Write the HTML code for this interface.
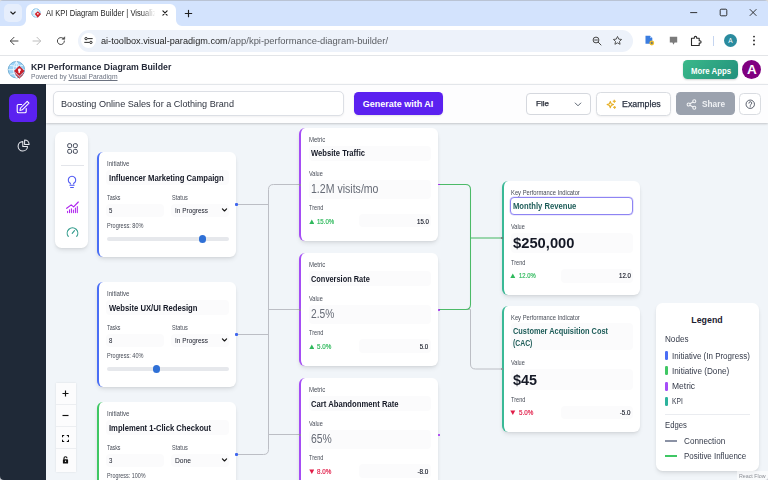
<!DOCTYPE html>
<html>
<head>
<meta charset="utf-8">
<title>AI KPI Diagram Builder</title>
<style>
html,body{margin:0;padding:0;}
body{width:768px;height:480px;overflow:hidden;position:relative;background:#fff;font-family:"Liberation Sans",sans-serif;}
body>div,body>svg,body>span{position:absolute;box-sizing:border-box;}
.t{position:absolute;white-space:nowrap;display:block;}
.card{background:#fff;border-radius:6px;box-shadow:0 3px 5px -1px rgba(0,0,0,.10),0 1.500px 3px -1.500px rgba(0,0,0,.10);}
.f{background:#fbfbfc;border-radius:4px;}
</style>
</head>
<body>
<div style="left:0px;top:0px;width:768px;height:26px;background:#d3e3fd;border-radius:0px;"></div>
<div style="left:0px;top:0px;width:768px;height:1px;background:#b9c3d4;border-radius:0px;"></div>
<div style="left:4px;top:4px;width:18px;height:17.5px;background:#e6eefc;border-radius:5px;"></div>
<svg style="left:9px;top:8.5px" width="8" height="8" viewBox="0 0 8 8"><path d="M1.8 3 L4 5.1 L6.2 3" fill="none" stroke="#1f1f1f" stroke-width="1.15" stroke-linecap="round" stroke-linejoin="round"/></svg>
<div style="left:26px;top:4px;width:149.5px;height:23px;background:#fff;border-radius:0px;border-radius:6px 6px 0 0;"></div>
<svg style="left:20px;top:20px" width="6" height="6" viewBox="0 0 6 6"><path d="M6 0 V6 H0 A6 6 0 0 0 6 0Z" fill="#fff"/></svg>
<svg style="left:175.5px;top:20px" width="6" height="6" viewBox="0 0 6 6"><path d="M0 0 V6 H6 A6 6 0 0 1 0 0Z" fill="#fff"/></svg>
<svg style="left:31px;top:8px" width="11" height="11" viewBox="0 0 22 22"><circle cx="10" cy="10" r="8.6" fill="#bfe3f7" stroke="#5aa7dd" stroke-width="1.2"/><path d="M10 1.5 V18.5 M1.5 10 H18.5 M3.5 5 Q10 8 16.500 5 M3.5 15 Q10 12 16.5 15 M10 1.5 Q3 10 10 18.5 M10 1.5 Q17 10 10 18.500" fill="none" stroke="#fff" stroke-width="1"/><path d="M13.5 6.5 L20 12 L13.5 19.500 L7.5 12 Z" fill="#d2232a"/><circle cx="13.7" cy="11.500" r="1.700" fill="#fff"/></svg>
<span id="t0" class="t" style="top:8.97px;font-size:8.2px;line-height:10.66px;font-weight:400;color:#1f1f1f;left:46.2px;transform-origin:0 50%;transform:scaleX(0.9291);-webkit-mask-image:linear-gradient(90deg,#000 86%,transparent 99%);mask-image:linear-gradient(90deg,#000 86%,transparent 99%);">AI KPI Diagram Builder | Visualiz</span>
<svg style="left:161px;top:9.200px" width="8" height="8" viewBox="0 0 8 8"><path d="M1.900 1.900 L6.100 6.100 M6.100 1.900 L1.900 6.100" stroke="#1f1f1f" stroke-width="1.150" stroke-linecap="round"/></svg>
<svg style="left:183.500px;top:8.5px" width="9" height="9" viewBox="0 0 9 9"><path d="M4.500 1.300 V7.700 M1.300 4.500 H7.700" stroke="#1f1f1f" stroke-width="1.150" stroke-linecap="round"/></svg>
<svg style="left:689px;top:8px" width="70" height="10" viewBox="0 0 70 10"><path d="M1.200 4.600 H8.200" stroke="#1f1f1f" stroke-width="0.9"/><rect x="31.200" y="1.200" width="6.600" height="6.600" rx="1" fill="none" stroke="#1f1f1f" stroke-width="0.9"/><path d="M60.800 1.200 L67.400 7.800 M67.400 1.200 L60.800 7.800" stroke="#1f1f1f" stroke-width="0.9"/></svg>
<div style="left:0px;top:26px;width:768px;height:29px;background:#fff;border-radius:0px;border-radius:4px 4px 0 0;"></div>
<div style="left:0px;top:55px;width:768px;height:1px;background:#e3e5e8;border-radius:0px;"></div>
<svg style="left:9px;top:35.500px" width="10" height="10" viewBox="0 0 10 10"><path d="M9 5 H1.500 M5 1.300 L1.300 5 L5 8.700" fill="none" stroke="#474747" stroke-width="1" stroke-linecap="round" stroke-linejoin="round"/></svg>
<svg style="left:32px;top:35.500px" width="10" height="10" viewBox="0 0 10 10"><path d="M1 5 H8.500 M5 1.300 L8.700 5 L5 8.700" fill="none" stroke="#bdbdbd" stroke-width="1" stroke-linecap="round" stroke-linejoin="round"/></svg>
<svg style="left:55.500px;top:35.500px" width="10" height="10" viewBox="0 0 10 10"><path d="M8.400 5 A3.500 3.500 0 1 1 7 2.200" fill="none" stroke="#474747" stroke-width="1" stroke-linecap="round"/><path d="M8.700 0.800 V3.300 H6.200 Z" fill="#474747" stroke="#474747" stroke-width="0.600" stroke-linejoin="round"/></svg>
<div style="left:77.5px;top:30px;width:555px;height:21.5px;background:#edf2fa;border-radius:11px;"></div>
<div style="left:80.5px;top:33px;width:15px;height:15px;background:#fff;border-radius:8px;"></div>
<svg style="left:83.600px;top:36px" width="9" height="9" viewBox="0 0 10 10"><path d="M4.300 2.900 H9.200 M0.800 7.100 H5.700" stroke="#2b2b2b" stroke-width="1.100" stroke-linecap="round"/><circle cx="2.300" cy="2.900" r="1.300" fill="none" stroke="#2b2b2b" stroke-width="1.100"/><circle cx="7.700" cy="7.100" r="1.300" fill="none" stroke="#2b2b2b" stroke-width="1.100"/></svg>
<span id="t1" class="t" style="top:35.13px;font-size:9.5px;line-height:12.35px;font-weight:400;color:#1f1f1f;left:101px;transform-origin:0 50%;transform:scaleX(0.9636);">ai-toolbox.visual-paradigm.com</span>
<span id="t2" class="t" style="top:35.13px;font-size:9.5px;line-height:12.35px;font-weight:400;color:#5a5d62;left:227.7px;transform-origin:0 50%;transform:scaleX(0.9902);">/app/kpi-performance-diagram-builder/</span>
<svg style="left:591.500px;top:35.500px" width="10" height="10" viewBox="0 0 10 10"><circle cx="4" cy="4" r="2.900" fill="none" stroke="#474747" stroke-width="1"/><path d="M6.200 6.200 L9 9 M2.600 4 H5.400" stroke="#474747" stroke-width="1" stroke-linecap="round"/></svg>
<svg style="left:611.500px;top:35px" width="11" height="11" viewBox="0 0 24 24"><path d="M12 3.200 L14.700 9 L21 9.700 L16.300 14 L17.600 20.300 L12 17.100 L6.400 20.300 L7.700 14 L3 9.700 L9.300 9 Z" fill="none" stroke="#474747" stroke-width="2" stroke-linejoin="round"/></svg>
<svg style="left:643.500px;top:35px" width="11" height="11" viewBox="0 0 11 11"><path d="M1.500 0.800 H6 L8.300 3 V8.800 H1.500 Z" fill="#3b7de0"/><path d="M6 0.800 V3 H8.300 Z" fill="#9cc0f5"/><circle cx="7.800" cy="8" r="2.400" fill="#f2c12e"/><path d="M7.800 6.800 V9.200 M6.600 8 H9" stroke="#3b5a8a" stroke-width="0.700"/></svg>
<svg style="left:668.500px;top:36px" width="9" height="10" viewBox="0 0 9 10"><path d="M0.800 0.800 H8.200 V6.500 H5.600 L4.500 8.800 L3.400 6.500 H0.800 Z" fill="#7b7b7b"/></svg>
<svg style="left:690px;top:34.500px" width="12" height="12" viewBox="0 0 12 12"><path d="M1.500 3.300 H4.300 V2.600 A1.200 1.200 0 0 1 6.700 2.600 V3.300 H9.200 V5.700 H9.900 A1.200 1.200 0 0 1 9.900 8.100 H9.200 V10.500 H1.500 Z" fill="none" stroke="#2b2b2b" stroke-width="1.100" stroke-linejoin="round"/></svg>
<div style="left:712.6px;top:35.5px;width:1px;height:10px;background:#c5d5f0;border-radius:0px;"></div>
<div style="left:724px;top:34px;width:13px;height:13px;background:#2a8b9e;border-radius:7px;"></div>
<span id="t3" class="t" style="top:36.98px;font-size:6.5px;line-height:8.45px;font-weight:400;color:#fff;left:730.5px;transform-origin:50% 50%;transform:translateX(-50%) ;">A</span>
<svg style="left:751.500px;top:35px" width="4" height="11" viewBox="0 0 4 11"><circle cx="2" cy="1.600" r="0.950" fill="#2b2b2b"/><circle cx="2" cy="5.500" r="0.950" fill="#2b2b2b"/><circle cx="2" cy="9.400" r="0.950" fill="#2b2b2b"/></svg>
<div style="left:0px;top:56px;width:768px;height:28px;background:#fff;border-radius:0px;"></div>
<div style="left:0px;top:83.5px;width:768px;height:1px;background:#e0e3e8;border-radius:0px;"></div>
<svg style="left:7px;top:59.500px" width="19" height="19" viewBox="0 0 38 38"><circle cx="18.800" cy="19.400" r="16.400" fill="#9dd3f6" stroke="#5a9cc6" stroke-width="1.500"/><path d="M18.800 3 V36 M2.400 19.400 H35 M5.500 10.500 Q18.800 15.500 32 10.500 M5.500 28.500 Q18.800 23.500 32 28.500 M18.800 3 Q6.500 19.400 18.800 36 M18.800 3 Q31 19.400 18.800 36" fill="none" stroke="#fff" stroke-width="1.400"/><path d="M24.600 11.600 L35.200 22 L24.600 32 L14 22 Z" fill="#c9202b"/><path d="M15.500 26 L24.600 34.600 L33.700 26 M17.500 29.600 L24.600 36.600 L31.700 29.600" fill="none" stroke="#c9202b" stroke-width="1.500"/><circle cx="24.800" cy="19.800" r="2.900" fill="#fff"/><path d="M23.300 21 L26.300 21 L25.600 26.500 L22.500 25Z" fill="#fff"/></svg>
<span id="t4" class="t" style="top:61.65px;font-size:9px;line-height:11.7px;font-weight:700;color:#262b39;left:31.2px;transform-origin:0 50%;transform:scaleX(0.9706);">KPI Performance Diagram Builder</span>
<span id="t5" class="t" style="top:72.98px;font-size:6.8px;line-height:8.84px;font-weight:400;color:#6b7280;left:31.2px;transform-origin:0 50%;transform:scaleX(0.9925);">Powered by <span style="text-decoration:underline;text-decoration-thickness:0.500px;text-underline-offset:0.800px">Visual Paradigm</span></span>
<div style="left:683.4px;top:60.4px;width:54.3px;height:18.6px;background:linear-gradient(135deg,#3bb98a,#22907c);border-radius:4.5px;box-shadow:0 1px 2px rgba(0,0,0,.18);"></div>
<span id="t6" class="t" style="top:66.67px;font-size:8.2px;line-height:10.66px;font-weight:700;color:#fff;left:710.8px;transform-origin:50% 50%;transform:translateX(-50%) scaleX(0.9520);">More Apps</span>
<div style="left:741.9px;top:60.1px;width:19.2px;height:19.2px;background:#800080;border-radius:10px;"></div>
<span id="t7" class="t" style="top:62.38px;font-size:12.5px;line-height:16.25px;font-weight:700;color:#fff;left:751.5px;transform-origin:50% 50%;transform:translateX(-50%) scaleX(1.0851);">A</span>
<div style="left:0px;top:84px;width:46.3px;height:396px;background:#1f2937;border-radius:0px;"></div>
<div style="left:9px;top:94px;width:28.3px;height:28px;background:#5b21f0;border-radius:5.5px;"></div>
<svg style="left:15px;top:99px" width="16" height="16" viewBox="0 0 16 16"><path d="M6.600 5.500 H3.500 A1.300 1.300 0 0 0 2.200 6.800 V12.400 A1.300 1.300 0 0 0 3.500 13.700 H9.900 A1.300 1.300 0 0 0 11.200 12.400 V9.600" fill="none" stroke="#fff" stroke-width="1.100" stroke-linecap="round"/><path d="M12.200 2.300 L14 4.100 L7.300 10.800 L4.900 11.400 L5.500 9 Z" fill="none" stroke="#fff" stroke-width="1.050" stroke-linejoin="round"/></svg>
<svg style="left:16.500px;top:138.500px" width="13" height="13" viewBox="0 0 13 13"><path d="M5.800 2.600 A4.700 4.700 0 1 0 10.500 7.400 H5.800 Z" fill="none" stroke="#e8eaf0" stroke-width="1.050" stroke-linejoin="round"/><path d="M7.600 0.900 A4.500 4.500 0 0 1 12.100 5.400 H7.600 Z" fill="none" stroke="#e8eaf0" stroke-width="1.050" stroke-linejoin="round"/></svg>
<div style="left:46.2px;top:122px;width:721.8px;height:358px;background:#f1f5f9;border-radius:0px;"></div>
<div style="left:46.2px;top:84px;width:721.8px;height:39px;background:#fdfdfe;border-radius:0px;box-shadow:0 1px 2.500px rgba(0,0,0,.13),0 1px 1.500px rgba(0,0,0,.07);"></div>
<div style="left:53.4px;top:91.4px;width:290.8px;height:24.4px;background:#fff;border-radius:5px;border:1px solid #dcdfe5;box-shadow:0 1px 2px rgba(0,0,0,.05);"></div>
<span id="t8" class="t" style="top:98.49px;font-size:9.4px;line-height:12.22px;font-weight:400;color:#2d323e;left:61.2px;transform-origin:0 50%;transform:scaleX(0.9706);">Boosting Online Sales for a Clothing Brand</span>
<div style="left:353.6px;top:92.3px;width:89.6px;height:23px;background:#5b21f0;border-radius:4.5px;box-shadow:0 1px 2px rgba(0,0,0,.10);"></div>
<span id="t9" class="t" style="top:98.88px;font-size:8.8px;line-height:11.44px;font-weight:700;color:#fff;left:398.4px;transform-origin:50% 50%;transform:translateX(-50%) scaleX(1.0218);">Generate with AI</span>
<div style="left:526.4px;top:93px;width:64.2px;height:21.7px;background:#fff;border-radius:4px;border:1px solid #d5d8de;"></div>
<span id="t10" class="t" style="top:99.4px;font-size:8px;line-height:10.4px;font-weight:400;color:#1f2430;left:536px;transform-origin:0 50%;transform:scaleX(1.0085);-webkit-text-stroke:0.250px #1f2430;">File</span>
<svg style="left:573.500px;top:100.500px" width="8" height="7" viewBox="0 0 8 7"><path d="M1.200 2 L4 4.800 L6.800 2" fill="none" stroke="#4b5563" stroke-width="0.900" stroke-linecap="round" stroke-linejoin="round"/></svg>
<div style="left:596.2px;top:91.5px;width:75px;height:24.3px;background:#fff;border-radius:4.5px;border:1px solid #d9dce1;box-shadow:0 1px 2px rgba(0,0,0,.05);"></div>
<svg style="left:606px;top:98.500px" width="11" height="11" viewBox="0 0 11 11"><path d="M4.300 2.400 L5.200 4.700 L7.500 5.600 L5.200 6.500 L4.300 8.800 L3.400 6.500 L1.100 5.600 L3.400 4.700 Z" fill="none" stroke="#e6ae22" stroke-width="1.050" stroke-linejoin="round"/><path d="M8.300 0.800 L8.700 1.900 L9.800 2.300 L8.700 2.700 L8.300 3.800 L7.900 2.700 L6.800 2.300 L7.900 1.900 Z M8.600 7 L9 8 L10 8.400 L9 8.800 L8.600 9.800 L8.200 8.800 L7.200 8.400 L8.200 8 Z" fill="#e6ae22" stroke="#e6ae22" stroke-width="0.600" stroke-linejoin="round"/></svg>
<span id="t11" class="t" style="top:99.01px;font-size:8.6px;line-height:11.18px;font-weight:400;color:#2b3342;left:622.3px;transform-origin:0 50%;transform:scaleX(1.0256);-webkit-text-stroke:0.250px #2b3342;">Examples</span>
<div style="left:676px;top:92.3px;width:58.5px;height:23px;background:#9ba2ae;border-radius:4.5px;"></div>
<svg style="left:685.500px;top:98.500px" width="11" height="11" viewBox="0 0 11 11"><circle cx="2.600" cy="5.500" r="1.500" fill="none" stroke="#f4f5f7" stroke-width="1.050"/><circle cx="8.300" cy="2.300" r="1.500" fill="none" stroke="#f4f5f7" stroke-width="1.050"/><circle cx="8.300" cy="8.700" r="1.500" fill="none" stroke="#f4f5f7" stroke-width="1.050"/><path d="M3.900 4.800 L7 3 M3.900 6.200 L7 8" stroke="#f4f5f7" stroke-width="1.050"/></svg>
<span id="t12" class="t" style="top:98.88px;font-size:8.8px;line-height:11.44px;font-weight:700;color:#eef0f3;left:701.8px;transform-origin:0 50%;transform:scaleX(0.9406);">Share</span>
<div style="left:739px;top:93px;width:21.5px;height:21.5px;background:#fff;border-radius:4.5px;border:1px solid #d9dce1;"></div>
<svg style="left:744.500px;top:98.500px" width="10.500" height="10.500" viewBox="0 0 21 21"><circle cx="10.500" cy="10.500" r="8.400" fill="none" stroke="#3b4252" stroke-width="1.700"/><path d="M7.800 8.300 A2.800 2.800 0 1 1 11.600 10.900 Q10.500 11.500 10.500 12.800" fill="none" stroke="#3b4252" stroke-width="1.700" stroke-linecap="round"/><circle cx="10.500" cy="15.600" r="1.100" fill="#3b4252"/></svg>
<div style="left:46.3px;top:83.8px;width:721.7px;height:0.9px;background:#e3e6ea;border-radius:0px;"></div>
<svg style="left:0;top:0" width="768" height="480" viewBox="0 0 768 480">
<g fill="none" stroke="#bcbec5" stroke-width="1">
<path d="M237 204.500 H268.500"/>
<path d="M237 334.500 H268.500"/>
<path d="M237 454.500 H263.500 Q268.500 454.500 268.500 449.500 V189.500 Q268.500 184.500 273.500 184.500 H300"/>
<path d="M268.500 309.500 H300"/>
<path d="M268.500 434.500 H300"/>
<path d="M439 309.500 H470.500 V364 Q470.500 369 475.500 369 H502"/>
</g>
<g fill="none" stroke="#4cba68" stroke-width="1.050">
<path d="M439 184.500 H465.500 Q470.500 184.500 470.500 189.500 V304.500 Q470.500 309.500 465.500 309.500 H439"/>
<path d="M470.500 238 H502"/>
</g>
</svg>
<div class="card" style="left:97.3px;top:152px;width:138.700px;height:105px;border-left:2.670px solid #4a6ef5;"></div>
<span id="t13" class="t" style="top:160.38px;font-size:6.5px;line-height:8.45px;font-weight:400;color:#474c57;left:107px;transform-origin:0 50%;transform:scaleX(0.9430);">Initiative</span>
<div class="f" style="left:106px;top:170px;width:122.500px;height:15px"></div>
<span id="t14" class="t" style="top:173.07px;font-size:8.5px;line-height:11.05px;font-weight:700;color:#151926;left:109px;transform-origin:0 50%;transform:scaleX(0.9068);">Influencer Marketing Campaign</span>
<span id="t15" class="t" style="top:194.38px;font-size:6.5px;line-height:8.45px;font-weight:400;color:#474c57;left:107px;transform-origin:0 50%;transform:scaleX(0.8120);">Tasks</span>
<span id="t16" class="t" style="top:194.38px;font-size:6.5px;line-height:8.45px;font-weight:400;color:#474c57;left:171.8px;transform-origin:0 50%;transform:scaleX(0.8569);">Status</span>
<div class="f" style="left:106px;top:203.8px;width:58px;height:13.400px"></div>
<span id="t17" class="t" style="top:206.61px;font-size:6.6px;line-height:8.58px;font-weight:400;color:#151926;left:109px;transform-origin:0 50%;transform:scaleX(0.9260);">5</span>
<div class="f" style="left:171px;top:203.8px;width:57.500px;height:13.400px"></div>
<span id="t18" class="t" style="top:206.61px;font-size:6.6px;line-height:8.58px;font-weight:400;color:#151926;left:175px;transform-origin:0 50%;transform:scaleX(0.9787);">In Progress</span>
<svg style="left:220.8px;top:207.3px" width="7" height="6" viewBox="0 0 7 6"><path d="M1.400 1.900 L3.500 4 L5.600 1.900" fill="none" stroke="#111" stroke-width="1.150" stroke-linecap="round" stroke-linejoin="round"/></svg>
<span id="t19" class="t" style="top:222.38px;font-size:6.5px;line-height:8.45px;font-weight:400;color:#474c57;left:107px;transform-origin:0 50%;transform:scaleX(0.8560);">Progress: 80%</span>
<div style="left:107px;top:237.2px;width:121.500px;height:3.600px;background:#e6e8ec;border-radius:2px"></div>
<div style="left:198.60000000000002px;top:235.3px;width:7.400px;height:7.400px;background:#2f70d6;border-radius:4px"></div>
<div style="left:235.45px;top:203.45px;width:2.1px;height:2.1px;background:#3f66ee;border-radius:1.05px;"></div>
<div class="card" style="left:97.3px;top:282px;width:138.700px;height:105px;border-left:2.670px solid #4a6ef5;"></div>
<span id="t20" class="t" style="top:290.38px;font-size:6.5px;line-height:8.45px;font-weight:400;color:#474c57;left:107px;transform-origin:0 50%;transform:scaleX(0.9430);">Initiative</span>
<div class="f" style="left:106px;top:300px;width:122.500px;height:15px"></div>
<span id="t21" class="t" style="top:303.08px;font-size:8.5px;line-height:11.05px;font-weight:700;color:#151926;left:109px;transform-origin:0 50%;transform:scaleX(0.9022);">Website UX/UI Redesign</span>
<span id="t22" class="t" style="top:324.38px;font-size:6.5px;line-height:8.45px;font-weight:400;color:#474c57;left:107px;transform-origin:0 50%;transform:scaleX(0.8120);">Tasks</span>
<span id="t23" class="t" style="top:324.38px;font-size:6.5px;line-height:8.45px;font-weight:400;color:#474c57;left:171.8px;transform-origin:0 50%;transform:scaleX(0.8569);">Status</span>
<div class="f" style="left:106px;top:333.8px;width:58px;height:13.400px"></div>
<span id="t24" class="t" style="top:336.61px;font-size:6.6px;line-height:8.58px;font-weight:400;color:#151926;left:109px;transform-origin:0 50%;transform:scaleX(0.9260);">8</span>
<div class="f" style="left:171px;top:333.8px;width:57.500px;height:13.400px"></div>
<span id="t25" class="t" style="top:336.61px;font-size:6.6px;line-height:8.58px;font-weight:400;color:#151926;left:175px;transform-origin:0 50%;transform:scaleX(0.9787);">In Progress</span>
<svg style="left:220.8px;top:337.3px" width="7" height="6" viewBox="0 0 7 6"><path d="M1.400 1.900 L3.500 4 L5.600 1.900" fill="none" stroke="#111" stroke-width="1.150" stroke-linecap="round" stroke-linejoin="round"/></svg>
<span id="t26" class="t" style="top:352.38px;font-size:6.5px;line-height:8.45px;font-weight:400;color:#474c57;left:107px;transform-origin:0 50%;transform:scaleX(0.8560);">Progress: 40%</span>
<div style="left:107px;top:367.2px;width:121.500px;height:3.600px;background:#e6e8ec;border-radius:2px"></div>
<div style="left:152.8px;top:365.3px;width:7.400px;height:7.400px;background:#2f70d6;border-radius:4px"></div>
<div style="left:235.45px;top:333.45px;width:2.1px;height:2.1px;background:#3f66ee;border-radius:1.05px;"></div>
<div class="card" style="left:97.3px;top:402px;width:138.700px;height:105px;border-left:2.670px solid #3fc764;"></div>
<span id="t27" class="t" style="top:410.38px;font-size:6.5px;line-height:8.45px;font-weight:400;color:#474c57;left:107px;transform-origin:0 50%;transform:scaleX(0.9430);">Initiative</span>
<div class="f" style="left:106px;top:420px;width:122.500px;height:15px"></div>
<span id="t28" class="t" style="top:423.08px;font-size:8.5px;line-height:11.05px;font-weight:700;color:#151926;left:109px;transform-origin:0 50%;transform:scaleX(0.8960);">Implement 1-Click Checkout</span>
<span id="t29" class="t" style="top:444.38px;font-size:6.5px;line-height:8.45px;font-weight:400;color:#474c57;left:107px;transform-origin:0 50%;transform:scaleX(0.8120);">Tasks</span>
<span id="t30" class="t" style="top:444.38px;font-size:6.5px;line-height:8.45px;font-weight:400;color:#474c57;left:171.8px;transform-origin:0 50%;transform:scaleX(0.8569);">Status</span>
<div class="f" style="left:106px;top:453.8px;width:58px;height:13.400px"></div>
<span id="t31" class="t" style="top:456.61px;font-size:6.6px;line-height:8.58px;font-weight:400;color:#151926;left:109px;transform-origin:0 50%;transform:scaleX(0.9260);">3</span>
<div class="f" style="left:171px;top:453.8px;width:57.500px;height:13.400px"></div>
<span id="t32" class="t" style="top:456.61px;font-size:6.6px;line-height:8.58px;font-weight:400;color:#151926;left:175px;transform-origin:0 50%;transform:scaleX(1.0149);">Done</span>
<svg style="left:220.8px;top:457.3px" width="7" height="6" viewBox="0 0 7 6"><path d="M1.400 1.900 L3.500 4 L5.600 1.900" fill="none" stroke="#111" stroke-width="1.150" stroke-linecap="round" stroke-linejoin="round"/></svg>
<span id="t33" class="t" style="top:472.38px;font-size:6.5px;line-height:8.45px;font-weight:400;color:#474c57;left:107px;transform-origin:0 50%;transform:scaleX(0.8324);">Progress: 100%</span>
<div style="left:107px;top:487.2px;width:121.500px;height:3.600px;background:#e6e8ec;border-radius:2px"></div>
<div style="left:221.3px;top:485.3px;width:7.400px;height:7.400px;background:#2f70d6;border-radius:4px"></div>
<div style="left:235.45px;top:453.45px;width:2.1px;height:2.1px;background:#3f66ee;border-radius:1.05px;"></div>
<div class="card" style="left:299.3px;top:128px;width:138.700px;height:112.500px;border-left:2.670px solid #a54df5;"></div>
<span id="t34" class="t" style="top:136.07px;font-size:6.5px;line-height:8.45px;font-weight:400;color:#474c57;left:309.3px;transform-origin:0 50%;transform:scaleX(0.9207);">Metric</span>
<div class="f" style="left:309px;top:145.8px;width:121.500px;height:15px"></div>
<span id="t35" class="t" style="top:148.38px;font-size:8.8px;line-height:11.44px;font-weight:700;color:#151926;left:311px;transform-origin:0 50%;transform:scaleX(0.8651);">Website Traffic</span>
<span id="t36" class="t" style="top:170.07px;font-size:6.5px;line-height:8.45px;font-weight:400;color:#474c57;left:309.3px;transform-origin:0 50%;transform:scaleX(0.8542);">Value</span>
<div class="f" style="left:309px;top:180px;width:121.500px;height:18.800px"></div>
<span id="t37" class="t" style="top:182.1px;font-size:12.3px;line-height:15.99px;font-weight:400;color:#666b76;left:311px;transform-origin:0 50%;transform:scaleX(0.8588);">1.2M visits/mo</span>
<span id="t38" class="t" style="top:204.18px;font-size:6.5px;line-height:8.45px;font-weight:400;color:#474c57;left:309.3px;transform-origin:0 50%;transform:scaleX(0.8657);">Trend</span>
<svg style="left:308.6px;top:218.8px" width="5.600" height="5.600" viewBox="0 0 5.600 5.600"><path d="M0.300 5 L2.800 0.600 L5.300 5 Z" fill="#2fb95c"/></svg>
<span id="t39" class="t" style="top:217.61px;font-size:6.6px;line-height:8.58px;font-weight:400;color:#2fb95c;left:316.7px;transform-origin:0 50%;transform:scaleX(0.9196);-webkit-text-stroke:0.180px #2fb95c;">15.0%</span>
<div class="f" style="left:358.600px;top:213.7px;width:72.400px;height:13.700px;border-radius:4px"></div>
<span id="t40" class="t" style="top:217.61px;font-size:6.6px;line-height:8.58px;font-weight:400;color:#151926;right:339.5px;transform-origin:100% 50%;transform:scaleX(0.9187);-webkit-text-stroke:0.150px #151926;">15.0</span>
<div style="left:437.65000000000003px;top:183.55px;width:1.9px;height:1.9px;background:#a020f0;border-radius:0.95px;"></div>
<div style="left:299.3px;top:183.5px;width:2px;height:2px;background:#8d8f96;border-radius:1px;"></div>
<div class="card" style="left:299.3px;top:253.2px;width:138.700px;height:112.500px;border-left:2.670px solid #a54df5;"></div>
<span id="t41" class="t" style="top:261.27px;font-size:6.5px;line-height:8.45px;font-weight:400;color:#474c57;left:309.3px;transform-origin:0 50%;transform:scaleX(0.9207);">Metric</span>
<div class="f" style="left:309px;top:271.0px;width:121.500px;height:15px"></div>
<span id="t42" class="t" style="top:273.58px;font-size:8.8px;line-height:11.44px;font-weight:700;color:#151926;left:311px;transform-origin:0 50%;transform:scaleX(0.8411);">Conversion Rate</span>
<span id="t43" class="t" style="top:295.27px;font-size:6.5px;line-height:8.45px;font-weight:400;color:#474c57;left:309.3px;transform-origin:0 50%;transform:scaleX(0.8542);">Value</span>
<div class="f" style="left:309px;top:305.2px;width:121.500px;height:18.800px"></div>
<span id="t44" class="t" style="top:307.31px;font-size:12.3px;line-height:15.99px;font-weight:400;color:#666b76;left:311px;transform-origin:0 50%;transform:scaleX(0.8312);">2.5%</span>
<span id="t45" class="t" style="top:329.38px;font-size:6.5px;line-height:8.45px;font-weight:400;color:#474c57;left:309.3px;transform-origin:0 50%;transform:scaleX(0.8657);">Trend</span>
<svg style="left:308.6px;top:344.0px" width="5.600" height="5.600" viewBox="0 0 5.600 5.600"><path d="M0.300 5 L2.800 0.600 L5.300 5 Z" fill="#2fb95c"/></svg>
<span id="t46" class="t" style="top:342.81px;font-size:6.6px;line-height:8.58px;font-weight:400;color:#2fb95c;left:316.7px;transform-origin:0 50%;transform:scaleX(0.9514);-webkit-text-stroke:0.180px #2fb95c;">5.0%</span>
<div class="f" style="left:358.600px;top:338.9px;width:72.400px;height:13.700px;border-radius:4px"></div>
<span id="t47" class="t" style="top:342.81px;font-size:6.6px;line-height:8.58px;font-weight:400;color:#151926;right:339.5px;transform-origin:100% 50%;transform:scaleX(0.9267);-webkit-text-stroke:0.150px #151926;">5.0</span>
<div style="left:437.65000000000003px;top:308.75px;width:1.9px;height:1.9px;background:#a020f0;border-radius:0.95px;"></div>
<div style="left:299.3px;top:308.7px;width:2px;height:2px;background:#8d8f96;border-radius:1px;"></div>
<div class="card" style="left:299.3px;top:378.2px;width:138.700px;height:112.500px;border-left:2.670px solid #a54df5;"></div>
<span id="t48" class="t" style="top:386.27px;font-size:6.5px;line-height:8.45px;font-weight:400;color:#474c57;left:309.3px;transform-origin:0 50%;transform:scaleX(0.9207);">Metric</span>
<div class="f" style="left:309px;top:396.0px;width:121.500px;height:15px"></div>
<span id="t49" class="t" style="top:398.58px;font-size:8.8px;line-height:11.44px;font-weight:700;color:#151926;left:311px;transform-origin:0 50%;transform:scaleX(0.8719);">Cart Abandonment Rate</span>
<span id="t50" class="t" style="top:420.27px;font-size:6.5px;line-height:8.45px;font-weight:400;color:#474c57;left:309.3px;transform-origin:0 50%;transform:scaleX(0.8542);">Value</span>
<div class="f" style="left:309px;top:430.2px;width:121.500px;height:18.800px"></div>
<span id="t51" class="t" style="top:432.31px;font-size:12.3px;line-height:15.99px;font-weight:400;color:#666b76;left:311px;transform-origin:0 50%;transform:scaleX(0.8447);">65%</span>
<span id="t52" class="t" style="top:454.38px;font-size:6.5px;line-height:8.45px;font-weight:400;color:#474c57;left:309.3px;transform-origin:0 50%;transform:scaleX(0.8657);">Trend</span>
<svg style="left:308.6px;top:469.0px" width="5.600" height="5.600" viewBox="0 0 5.600 5.600"><path d="M0.300 0.600 L5.300 0.600 L2.800 5 Z" fill="#e11d48"/></svg>
<span id="t53" class="t" style="top:467.81px;font-size:6.6px;line-height:8.58px;font-weight:400;color:#e11d48;left:316.7px;transform-origin:0 50%;transform:scaleX(0.9514);-webkit-text-stroke:0.180px #e11d48;">8.0%</span>
<div class="f" style="left:358.600px;top:463.9px;width:72.400px;height:13.700px;border-radius:4px"></div>
<span id="t54" class="t" style="top:467.81px;font-size:6.6px;line-height:8.58px;font-weight:400;color:#151926;right:339.5px;transform-origin:100% 50%;transform:scaleX(0.9670);-webkit-text-stroke:0.150px #151926;">-8.0</span>
<div style="left:437.65000000000003px;top:433.75px;width:1.9px;height:1.9px;background:#a020f0;border-radius:0.95px;"></div>
<div style="left:299.3px;top:433.7px;width:2px;height:2px;background:#8d8f96;border-radius:1px;"></div>
<div class="card" style="left:501.600px;top:181.2px;width:138.400px;height:113.600px;border-left:2.670px solid #3ab996;"></div>
<span id="t55" class="t" style="top:189.38px;font-size:6.5px;line-height:8.45px;font-weight:400;color:#474c57;left:511.3px;transform-origin:0 50%;transform:scaleX(0.8941);">Key Performance Indicator</span>
<div style="left:509.500px;top:197.1px;width:123.500px;height:17.900px;background:#fff;border:1px solid #8e84f3;border-radius:4px;box-shadow:0 0 0 0.600px rgba(142,132,243,.35);"></div>
<span id="t56" class="t" style="top:201.08px;font-size:8.8px;line-height:11.44px;font-weight:700;color:#1d5c58;left:513px;transform-origin:0 50%;transform:scaleX(0.8692);">Monthly Revenue</span>
<span id="t57" class="t" style="top:222.88px;font-size:6.5px;line-height:8.45px;font-weight:400;color:#474c57;left:511.3px;transform-origin:0 50%;transform:scaleX(0.8542);">Value</span>
<div class="f" style="left:511px;top:233.0px;width:122px;height:19.500px"></div>
<span id="t58" class="t" style="top:233.09px;font-size:15.4px;line-height:20.02px;font-weight:700;color:#151926;left:513px;transform-origin:0 50%;transform:scaleX(0.9579);">$250,000</span>
<span id="t59" class="t" style="top:259.38px;font-size:6.5px;line-height:8.45px;font-weight:400;color:#474c57;left:511.3px;transform-origin:0 50%;transform:scaleX(0.8657);">Trend</span>
<svg style="left:510.40000000000003px;top:273.2px" width="5.600" height="5.600" viewBox="0 0 5.600 5.600"><path d="M0.300 5 L2.800 0.600 L5.300 5 Z" fill="#2fb95c"/></svg>
<span id="t60" class="t" style="top:272.01px;font-size:6.6px;line-height:8.58px;font-weight:400;color:#2fb95c;left:518.5px;transform-origin:0 50%;transform:scaleX(0.8876);-webkit-text-stroke:0.180px #2fb95c;">12.0%</span>
<div class="f" style="left:560.800px;top:268.9px;width:72.400px;height:13.700px;border-radius:4px"></div>
<span id="t61" class="t" style="top:272.01px;font-size:6.6px;line-height:8.58px;font-weight:400;color:#151926;right:137.5px;transform-origin:100% 50%;transform:scaleX(0.9187);-webkit-text-stroke:0.150px #151926;">12.0</span>
<div style="left:501.3px;top:237px;width:2px;height:2px;background:#6f7278;border-radius:1px;"></div>
<div class="card" style="left:501.600px;top:306px;width:138.400px;height:125.700px;border-left:2.670px solid #3ab996;"></div>
<span id="t62" class="t" style="top:314.18px;font-size:6.5px;line-height:8.45px;font-weight:400;color:#474c57;left:511.3px;transform-origin:0 50%;transform:scaleX(0.8941);">Key Performance Indicator</span>
<div class="f" style="left:511px;top:323.3px;width:122px;height:26.700px"></div>
<span id="t63" class="t" style="top:325.88px;font-size:8.8px;line-height:11.44px;font-weight:700;color:#1d5c58;left:513.3px;transform-origin:0 50%;transform:scaleX(0.8402);">Customer Acquisition Cost</span>
<span id="t64" class="t" style="top:337.58px;font-size:8.8px;line-height:11.44px;font-weight:700;color:#1d5c58;left:513.3px;transform-origin:0 50%;transform:scaleX(0.7784);">(CAC)</span>
<span id="t65" class="t" style="top:358.68px;font-size:6.5px;line-height:8.45px;font-weight:400;color:#474c57;left:511.3px;transform-origin:0 50%;transform:scaleX(0.8542);">Value</span>
<div class="f" style="left:511px;top:369.3px;width:122px;height:20.700px"></div>
<span id="t66" class="t" style="top:369.89px;font-size:15.4px;line-height:20.02px;font-weight:700;color:#151926;left:513.3px;transform-origin:0 50%;transform:scaleX(0.9343);">$45</span>
<span id="t67" class="t" style="top:395.68px;font-size:6.5px;line-height:8.45px;font-weight:400;color:#474c57;left:511.3px;transform-origin:0 50%;transform:scaleX(0.8657);">Trend</span>
<svg style="left:510.40000000000003px;top:410.2px" width="5.600" height="5.600" viewBox="0 0 5.600 5.600"><path d="M0.300 0.600 L5.300 0.600 L2.800 5 Z" fill="#e11d48"/></svg>
<span id="t68" class="t" style="top:409.01px;font-size:6.6px;line-height:8.58px;font-weight:400;color:#e11d48;left:518.5px;transform-origin:0 50%;transform:scaleX(0.9514);-webkit-text-stroke:0.180px #e11d48;">5.0%</span>
<div class="f" style="left:560.800px;top:405.8px;width:72.400px;height:13.700px;border-radius:4px"></div>
<span id="t69" class="t" style="top:409.01px;font-size:6.6px;line-height:8.58px;font-weight:400;color:#151926;right:137.29999999999995px;transform-origin:100% 50%;transform:scaleX(0.9407);-webkit-text-stroke:0.150px #151926;">-5.0</span>
<div style="left:501.3px;top:368px;width:2px;height:2px;background:#8d8f96;border-radius:1px;"></div>
<div class="card" style="left:55.300px;top:132px;width:32.600px;height:116px;border-radius:6.500px"></div>
<svg style="left:66.500px;top:143px" width="11" height="11" viewBox="0 0 11 11"><g fill="none" stroke="#4a5160" stroke-width="1"><rect x="0.700" y="0.700" width="3.900" height="3.900" rx="1.300"/><rect x="6.400" y="0.700" width="3.900" height="3.900" rx="1.300"/><rect x="0.700" y="6.400" width="3.900" height="3.900" rx="1.300"/><rect x="6.400" y="6.400" width="3.900" height="3.900" rx="1.300"/></g></svg>
<div style="left:61px;top:164.8px;width:22.5px;height:0.8px;background:#e3e5ea;border-radius:0px;"></div>
<svg style="left:66px;top:175px" width="12" height="14" viewBox="0 0 12 14"><path d="M4.300 9 V8.300 A3.700 3.700 0 1 1 7.700 8.300 V9" fill="none" stroke="#4b55f2" stroke-width="1.050" stroke-linecap="round" stroke-linejoin="round"/><path d="M3.900 10.200 H8.100 M4.600 12.400 H7.400" stroke="#4b55f2" stroke-width="1.050" stroke-linecap="round"/></svg>
<svg style="left:65.500px;top:200.500px" width="13" height="13" viewBox="0 0 13 13"><g stroke="#ae22ee" stroke-linecap="round" stroke-linejoin="round" fill="none"><path d="M1.600 11.600 V10.300 M3.500 11.600 V8.700 M5.400 11.600 V7.700 M7.400 11.600 V9 M9.400 11.600 V7 M11.300 11.600 V5.600" stroke-width="1.050"/><path d="M0.700 7.300 L5.200 3.900 L7.600 5.900 L12.300 1"  stroke-width="1.150"/></g></svg>
<svg style="left:65.500px;top:226px" width="13" height="12" viewBox="0 0 13 12"><path d="M2.300 10.400 A5.300 5.300 0 1 1 10.700 10.400" fill="none" stroke="#2f9a8a" stroke-width="1.100" stroke-linecap="round"/><path d="M6.200 7.400 L8.500 4.700" stroke="#2f9a8a" stroke-width="1.100" stroke-linecap="round"/></svg>
<div style="left:55.500px;top:382.500px;width:20.900px;height:89px;background:#fcfcfd;box-shadow:0 0 2px rgba(0,0,0,.10);"></div>
<div style="left:55.5px;top:404.3px;width:20.9px;height:0.7px;background:#eceef1;border-radius:0px;"></div>
<div style="left:55.5px;top:426px;width:20.9px;height:0.7px;background:#eceef1;border-radius:0px;"></div>
<div style="left:55.5px;top:448px;width:20.9px;height:0.7px;background:#eceef1;border-radius:0px;"></div>
<svg style="left:62px;top:390.300px" width="7" height="7" viewBox="0 0 7 7"><path d="M3.500 0.500 V6.500 M0.500 3.500 H6.500" stroke="#111" stroke-width="1.150"/></svg>
<svg style="left:62px;top:412px" width="7" height="7" viewBox="0 0 7 7"><path d="M0.500 3.500 H6.500" stroke="#111" stroke-width="1.150"/></svg>
<svg style="left:62px;top:434.500px" width="7" height="7" viewBox="0 0 7 7"><path d="M0.500 2.200 V0.500 H2.200 M4.800 0.500 H6.500 V2.200 M6.500 4.800 V6.500 H4.800 M2.200 6.500 H0.500 V4.800" fill="none" stroke="#111" stroke-width="1.150"/></svg>
<svg style="left:62.300px;top:455.500px" width="7" height="8" viewBox="0 0 7 8"><path d="M2 3.400 V2.200 A1.500 1.500 0 0 1 5 2.200" fill="none" stroke="#111" stroke-width="1.150"/><rect x="0.900" y="3.300" width="5.200" height="4.200" rx="0.600" fill="#111"/><circle cx="3.500" cy="5.300" r="0.700" fill="#fff"/></svg>
<div class="card" style="left:656px;top:303px;width:103px;height:167.500px;border-radius:6.500px"></div>
<span id="t70" class="t" style="top:314.43px;font-size:9.5px;line-height:12.35px;font-weight:700;color:#1c2030;left:707.4px;transform-origin:50% 50%;transform:translateX(-50%) scaleX(0.9265);">Legend</span>
<span id="t71" class="t" style="top:333.98px;font-size:8.8px;line-height:11.44px;font-weight:400;color:#343a49;left:665.4px;transform-origin:0 50%;transform:scaleX(0.9238);">Nodes</span>
<div style="left:665px;top:351.3px;width:2.5px;height:9px;background:#4a6ef5;border-radius:1.25px;"></div>
<span id="t72" class="t" style="top:350.88px;font-size:8.5px;line-height:11.05px;font-weight:400;color:#343a49;left:672px;transform-origin:0 50%;transform:scaleX(0.9411);">Initiative (In Progress)</span>
<div style="left:665px;top:366.40000000000003px;width:2.5px;height:9px;background:#3fc764;border-radius:1.25px;"></div>
<span id="t73" class="t" style="top:365.98px;font-size:8.5px;line-height:11.05px;font-weight:400;color:#343a49;left:672px;transform-origin:0 50%;transform:scaleX(0.9608);">Initiative (Done)</span>
<div style="left:665px;top:381.5px;width:2.5px;height:9px;background:#a64df8;border-radius:1.25px;"></div>
<span id="t74" class="t" style="top:381.08px;font-size:8.5px;line-height:11.05px;font-weight:400;color:#343a49;left:672px;transform-origin:0 50%;transform:scaleX(0.9982);">Metric</span>
<div style="left:665px;top:396.6px;width:2.5px;height:9px;background:#2db39d;border-radius:1.25px;"></div>
<span id="t75" class="t" style="top:396.18px;font-size:8.5px;line-height:11.05px;font-weight:400;color:#343a49;left:672px;transform-origin:0 50%;transform:scaleX(0.7881);">KPI</span>
<div style="left:665px;top:413.8px;width:84.5px;height:0.8px;background:#eaecf0;border-radius:0px;"></div>
<span id="t76" class="t" style="top:420.08px;font-size:8.8px;line-height:11.44px;font-weight:400;color:#343a49;left:665.4px;transform-origin:0 50%;transform:scaleX(0.8736);">Edges</span>
<div style="left:665.4px;top:440.4px;width:11.2px;height:1.3px;background:#8b92a5;border-radius:0px;"></div>
<span id="t77" class="t" style="top:436.08px;font-size:8.5px;line-height:11.05px;font-weight:400;color:#343a49;left:683.6px;transform-origin:0 50%;transform:scaleX(0.9578);">Connection</span>
<div style="left:665.4px;top:455.3px;width:11.2px;height:1.3px;background:#3fc764;border-radius:0px;"></div>
<span id="t78" class="t" style="top:451.08px;font-size:8.5px;line-height:11.05px;font-weight:400;color:#343a49;left:683.6px;transform-origin:0 50%;transform:scaleX(0.9336);">Positive Influence</span>
<div style="left:737px;top:470.8px;width:31px;height:9.2px;background:rgba(255,255,255,.55);border-radius:0px;"></div>
<span id="t79" class="t" style="top:472.55px;font-size:5px;line-height:6.5px;font-weight:400;color:#8a8d94;left:739.3px;transform-origin:0 50%;transform:scaleX(1.0593);">React Flow</span>
<svg style="left:764px;top:0" width="4" height="4" viewBox="0 0 4 4"><path d="M0 0 H4 V4 A4 4 0 0 0 0 0 Z" fill="#dcdcdc"/></svg>
<svg style="left:0;top:0" width="3" height="3" viewBox="0 0 3 3"><path d="M3 0 H0 V3 A3 3 0 0 1 3 0 Z" fill="#dcdcdc"/></svg>
<svg style="left:0;top:476px" width="4" height="4" viewBox="0 0 4 4"><path d="M0 0 V4 H4 A4 4 0 0 1 0 0 Z" fill="#c9ccd2"/></svg>
<svg style="left:765px;top:477px" width="3" height="3" viewBox="0 0 3 3"><path d="M3 0 V3 H0 A3 3 0 0 0 3 0 Z" fill="#c9ccd2"/></svg>
</body>
</html>
